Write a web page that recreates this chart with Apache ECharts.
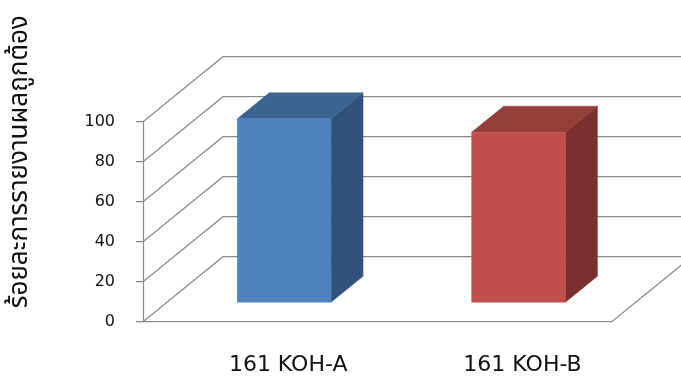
<!DOCTYPE html>
<html>
<head>
<meta charset="utf-8">
<script src="https://cdn.jsdelivr.net/npm/echarts@6/dist/echarts.min.js"></script>
<style>
html,body{margin:0;padding:0;background:#fff;}
#chart{width:681px;height:379px;}
</style>
</head>
<body>
<div id="chart"></div>
<script>
// ---- data ----
const categories = ['161 KOH-A', '161 KOH-B'];
const values = [91.7, 85];
const yTicks = [0, 20, 40, 60, 80, 100];
const yTitle = 'ร้อยละการรายงานผลถูกต้อง';

// ---- styles ----
const frontColors = ['#4F81BD', '#C0504D'];
const topColors = ['#3C6491', '#943E3B'];
const sideColors = ['#31527C', '#7A302E'];
const gridColor = '#8C8C8C';
const DX = 80, DY = 65;       // depth of the 3D box
const F1 = 0.3, F2 = 0.7;     // bar depth fractions

const chart = echarts.init(document.getElementById('chart'), null, {renderer: 'canvas'});

const option = {
  animation: false,
  grid: {left: 143, right: 69.3, top: 121.7, bottom: 57.3, containLabel: false},
  xAxis: {
    type: 'category',
    data: categories,
    axisLine: {show: true, lineStyle: {color: gridColor, width: 1.25}},
    axisTick: {show: false},
    splitLine: {show: false},
    axisLabel: {
      fontSize: 22, color: '#111', margin: 33,
      fontFamily: 'DejaVu Sans, sans-serif',
      padding: [0, 0, 0, 56]
    }
  },
  yAxis: {
    type: 'value',
    min: 0, max: 100, interval: 20,
    name: yTitle,
    nameLocation: 'middle',
    nameRotate: 90,
    nameGap: 108,
    nameTextStyle: {
      fontSize: 26, color: '#111',
      fontFamily: 'Noto Sans Thai, Noto Sans Thai UI, Loma, Garuda, Noto Sans, DejaVu Sans, sans-serif',
      padding: [0, 0, 0, 120]
    },
    axisLine: {show: true, lineStyle: {color: gridColor, width: 1.25}},
    axisTick: {show: true, length: 7, inside: false, lineStyle: {color: gridColor, width: 1.25}},
    splitLine: {show: false},
    axisLabel: {
      fontSize: 16, color: '#111', margin: 28,
      fontFamily: 'DejaVu Sans, sans-serif',
      padding: [8, 0, 0, 0],
      formatter: function (v) { return String(v); }
    }
  },
  series: [
    {
      type: 'custom',
      name: 'walls',
      z: 1,
      silent: true,
      data: yTicks.map(function (t) { return [0, t]; }),
      renderItem: function (params, api) {
        const cs = params.coordSys;
        const y = api.coord([0, api.value(1)])[1];
        const children = [{
          type: 'polyline',
          shape: {points: [[cs.x, y], [cs.x + DX, y - DY], [cs.x + cs.width + DX, y - DY]]},
          style: {stroke: gridColor, lineWidth: 1.25, fill: null}
        }];
        if (api.value(1) === 0) {
          children.push({
            type: 'line',
            shape: {x1: cs.x + cs.width, y1: y, x2: cs.x + cs.width + DX, y2: y - DY},
            style: {stroke: gridColor, lineWidth: 1.25}
          });
        }
        return {type: 'group', children: children};
      }
    },
    {
      type: 'custom',
      name: 'bars',
      z: 3,
      data: values.map(function (v, i) { return [i, v]; }),
      renderItem: function (params, api) {
        const i = params.dataIndex;
        const idx = api.value(0);
        const base = api.coord([idx, 0]);
        const top = api.coord([idx, api.value(1)]);
        const bw = api.size([1, 0])[0] * 0.4;
        const fx = DX * F1, fy = -DY * F1;
        const bx = DX * F2, by = -DY * F2;
        const xl = base[0] - bw / 2, xr = base[0] + bw / 2;
        const yb = base[1], yt = top[1];
        return {
          type: 'group',
          children: [
            {
              type: 'polygon',
              shape: {points: [[xr + fx, yt + fy], [xr + bx, yt + by], [xr + bx, yb + by], [xr + fx, yb + fy]]},
              style: {fill: sideColors[i], stroke: sideColors[i], lineWidth: 0.5}
            },
            {
              type: 'polygon',
              shape: {points: [[xl + fx, yt + fy], [xl + bx, yt + by], [xr + bx, yt + by], [xr + fx, yt + fy]]},
              style: {fill: topColors[i], stroke: topColors[i], lineWidth: 0.5}
            },
            {
              type: 'polygon',
              shape: {points: [[xl + fx, yt + fy], [xr + fx, yt + fy], [xr + fx, yb + fy], [xl + fx, yb + fy]]},
              style: {fill: frontColors[i], stroke: frontColors[i], lineWidth: 0.5}
            }
          ]
        };
      }
    }
  ]
};
chart.setOption(option);
</script>
</body>
</html>
